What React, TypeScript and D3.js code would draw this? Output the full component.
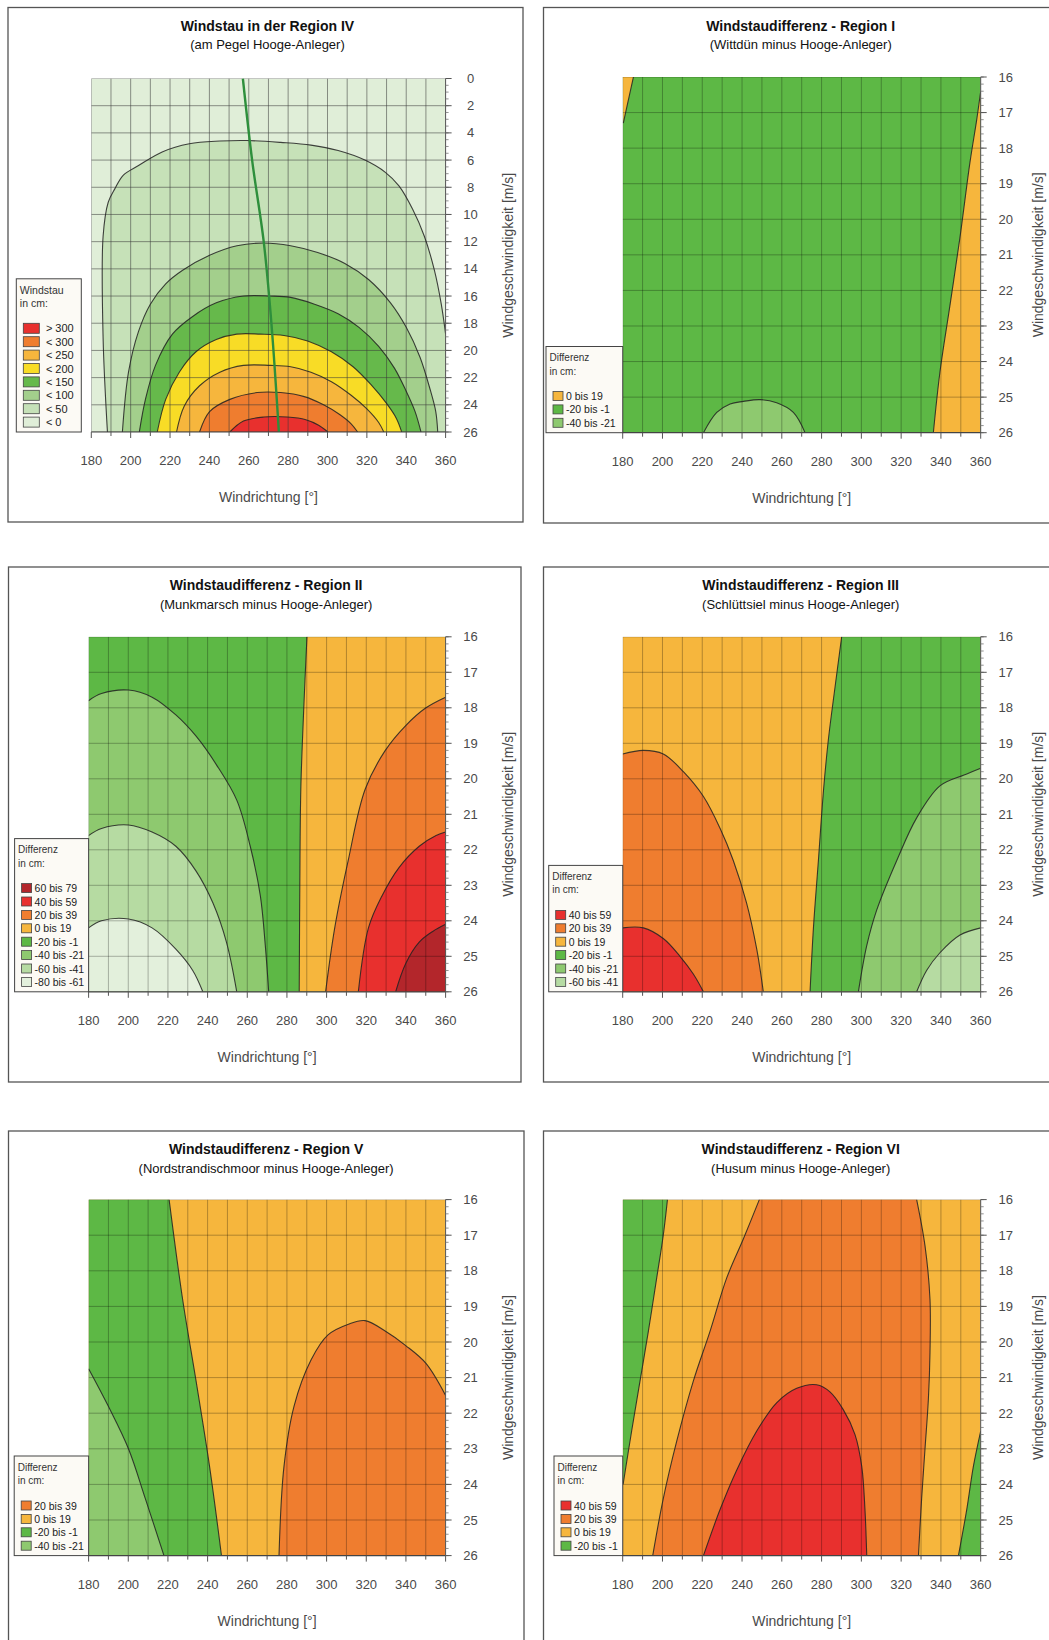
import React from "react";
import * as d3 from "d3";

type Pt = [number, number];

// ---------- data (x = Windrichtung [°], y = Windgeschwindigkeit [m/s]) ----------
const directionTicks = [180, 200, 220, 240, 260, 280, 300, 320, 340, 360];
const speedTicksIV = [0, 2, 4, 6, 8, 10, 12, 14, 16, 18, 20, 22, 24, 26];
const speedTicksDiff = [16, 17, 18, 19, 20, 21, 22, 23, 24, 25, 26];

// Region IV: Windstau contours, outer to inner
const ivC0: Pt[] = [[188.2, 26], [186, 19.1], [186, 11.6], [188.6, 9.1], [192, 8.1], [196.3, 7.1], [204, 6.4], [216, 5.4], [229.8, 4.8], [245.3, 4.6], [259, 4.56], [276.2, 4.7], [291.6, 4.9], [305.4, 5.3], [319, 6.0], [329.4, 6.9], [336.3, 7.9], [343.2, 9.6], [349.2, 11.6], [354.3, 14.1], [357.8, 16.6], [360, 18.8]];
const ivC1: Pt[] = [[195.8, 26], [198.9, 21.6], [204, 18.6], [210, 16.6], [217.8, 15.1], [226.4, 14.1], [240.1, 13], [254, 12.3], [267.6, 12.1], [281.3, 12.3], [295, 12.8], [308.8, 13.6], [321, 14.8], [332, 16.5], [340, 18.3], [347, 20.5], [352, 22.8], [355, 24.5], [356, 26]];
const ivC2: Pt[] = [[204.4, 26], [207.5, 23.6], [212.6, 21.1], [221.2, 18.8], [231.5, 17.5], [243.5, 16.5], [257.3, 16], [271, 16], [281.3, 16.1], [293.4, 16.6], [305.4, 17.3], [316, 18.3], [326, 19.7], [334, 21.3], [340, 23], [344.5, 24.5], [347.5, 26]];
const ivC3: Pt[] = [[213.5, 26], [217.8, 23.6], [224.7, 21.6], [233.2, 20.1], [243.5, 19.2], [253.9, 18.8], [265.9, 18.8], [277.9, 18.9], [289.9, 19.3], [302, 20.1], [313, 21.2], [322, 22.5], [330, 23.9], [335, 25], [337.7, 26]];
const ivC4: Pt[] = [[223.3, 26], [227.2, 24.1], [235, 22.6], [245.3, 21.6], [257.3, 21.1], [271, 21.1], [281.3, 21.2], [291.6, 21.6], [302, 22.3], [312, 23.3], [320, 24.3], [326, 25.3], [328.6, 26]];
const ivC5: Pt[] = [[235, 26], [240.1, 24.5], [250.4, 23.6], [264.2, 23.1], [276.2, 23.1], [288.2, 23.4], [298, 24], [306, 24.7], [312, 25.4], [315.3, 26]];
const ivC6: Pt[] = [[250.4, 26], [257.3, 25.2], [267.6, 24.9], [279.6, 24.9], [289, 25.1], [295.5, 25.5], [300.2, 26]];
const ivRidge: Pt[] = [[257, 0], [261.7, 6], [267.6, 12], [271.5, 18], [275.3, 26]];
const legendIV = ["> 300", "< 300", "< 250", "< 200", "< 150", "< 100", "< 50", "< 0"];

// Region I
const iTopLeft: Pt[] = [[185.4, 16], [180.3, 17.3]];
const iRight: Pt[] = [[336.2, 26], [339.5, 24.3], [344.6, 22.4], [349.6, 20.5], [354.6, 18.4], [358, 17.2], [360, 16.4]];
const iBump: Pt[] = [[220.6, 26], [227.3, 25.43], [234, 25.19], [240.7, 25.12], [249, 25.07], [257.4, 25.16], [265.8, 25.43], [271.7, 26]];
const legendI = ["0 bis 19", "-20 bis -1", "-40 bis -21"];

// Region II
const iiZero: Pt[] = [[290.1, 16], [288.5, 18], [287, 20.3], [286.5, 23], [286.2, 26]];
const ii20: Pt[] = [[299.5, 26], [304.1, 24.2], [310.9, 22.3], [319.4, 20.3], [329.6, 19.2], [339.9, 18.5], [350.1, 18.0], [360, 17.7]];
const ii40: Pt[] = [[316, 26], [321.1, 24.2], [327.9, 23.3], [336.5, 22.5], [346.7, 21.9], [355.2, 21.6], [360, 21.5]];
const ii60: Pt[] = [[334.8, 26], [339.9, 25.2], [346.7, 24.6], [353.5, 24.3], [360, 24.1]];
const iiM20: Pt[] = [[180, 17.8], [186.5, 17.6], [200.1, 17.5], [212, 17.7], [224, 18.2], [234.2, 18.8], [244.4, 19.6], [254.7, 20.6], [261.5, 21.9], [266.6, 23.3], [269.1, 24.7], [270.8, 26]];
const iiM40: Pt[] = [[180, 21.6], [186.5, 21.4], [200.1, 21.3], [212, 21.5], [224, 21.9], [234.2, 22.6], [242.7, 23.5], [249.5, 24.6], [254.7, 26]];
const iiM60: Pt[] = [[180, 24.2], [186.5, 24], [200.1, 23.95], [212, 24.2], [224, 24.8], [232.5, 25.4], [237.6, 26]];
const legendII = ["60 bis 79", "40 bis 59", "20 bis 39", "0 bis 19", "-20 bis -1", "-40 bis -21", "-60 bis -41", "-80 bis -61"];

// Region III
const iiiZero: Pt[] = [[290.1, 16], [286.8, 17.4], [283.4, 18.9], [281, 20.3], [278.4, 22.3], [275.9, 24.2], [274.2, 26]];
const iiiM20: Pt[] = [[298.5, 26], [302.7, 24.7], [307.7, 23.7], [317.8, 22.3], [327.8, 21.1], [339.5, 20.2], [351.3, 19.9], [360, 19.7]];
const iiiM40: Pt[] = [[327.8, 26], [332.8, 25.4], [339.5, 24.9], [349.6, 24.4], [360, 24.2]];
const iii20: Pt[] = [[180, 19.3], [190.4, 19.2], [200.4, 19.3], [210.5, 19.8], [220.6, 20.5], [229, 21.4], [235.6, 22.3], [242.3, 23.5], [247.4, 24.8], [250.7, 26]];
const iii40: Pt[] = [[180, 24.2], [190.4, 24.2], [200.4, 24.5], [208.8, 25], [215.5, 25.5], [220.6, 26]];
const legendIII = ["40 bis 59", "20 bis 39", "0 bis 19", "-20 bis -1", "-40 bis -21", "-60 bis -41"];

// Region V
const vZero: Pt[] = [[220.6, 16], [227.4, 18.8], [234.2, 21.1], [241, 23.5], [247, 26]];
const vM20: Pt[] = [[180, 20.75], [189.9, 21.8], [200.1, 23], [208.6, 24.4], [218, 26]];
const v20: Pt[] = [[276, 26], [278.5, 23.5], [283.6, 21.8], [292.2, 20.5], [300.7, 19.8], [311, 19.5], [319.4, 19.4], [329.7, 19.7], [339.9, 20.1], [350.1, 20.6], [360, 21.5]];
const legendV = ["20 bis 39", "0 bis 19", "-20 bis -1", "-40 bis -21"];

// Region VI
const viZeroLeft: Pt[] = [[202.5, 16], [200.4, 17], [197.1, 18.2], [192.9, 19.7], [188.7, 21.1], [184.5, 22.5], [180.2, 24]];
const viZeroRight: Pt[] = [[360, 22.5], [356.3, 23.5], [353, 24.7], [348.8, 26]];
const vi20Left: Pt[] = [[248.7, 16], [240.7, 17.1], [232.3, 18.2], [223.9, 19.7], [215.5, 21.1], [207.1, 22.8], [200.4, 24.4], [195.1, 26]];
const vi20Right: Pt[] = [[327.8, 16], [332, 17.3], [334.5, 18.8], [334.5, 20.3], [333.7, 21.6], [332, 23], [330.3, 24.4], [328.7, 26]];
const vi40: Pt[] = [[220.6, 26], [229, 24.7], [237.3, 23.6], [247.4, 22.5], [257.5, 21.7], [267.5, 21.3], [277.5, 21.2], [284.2, 21.4], [290.9, 21.9], [296.8, 22.6], [300.2, 23.5], [301.8, 24.7], [302.7, 26]];
const legendVI = ["40 bis 59", "20 bis 39", "0 bis 19", "-20 bis -1"];

// ---------- styles ----------
const colors: Record<string, string> = {
  "> 300": "#e8302e", "< 300": "#ef7d2f", "< 250": "#f6b63d", "< 200": "#f8dc26",
  "< 150": "#66b94b", "< 100": "#a3cf8c", "< 50": "#c6e1b8", "< 0": "#e0eed8",
  "60 bis 79": "#b3262b", "40 bis 59": "#e8302e", "20 bis 39": "#ef7d2f", "0 bis 19": "#f6b63d",
  "-20 bis -1": "#5db845", "-40 bis -21": "#8ec96f", "-60 bis -41": "#b6dba2", "-80 bis -61": "#e3f0dc",
};
const FONT = "'Liberation Sans', Arial, sans-serif";

type Part = { pts: Pt[]; line?: boolean };
type Area = { cls: string; parts: Part[] };
type Layout = { frame: number[]; plot: number[]; legendW: number; legendGap: number; yTitleDx: number; big: boolean };
type Spec = {
  title: string; subtitle: string; legendTitle: string; legend: string[]; base: string;
  areas: Area[]; ridge?: Pt[]; domain: [number, number]; ticks: number[]; gridStep: number; layout: Layout;
};

const L = (pts: Pt[]): Part => ({ pts, line: true });
const C = (pts: Pt[]): Part => ({ pts });
const rev = (pts: Pt[]) => [...pts].reverse() as Pt[];

const specs: Spec[] = [
  {
    title: "Windstau in der Region IV", subtitle: "(am Pegel Hooge-Anleger)", legendTitle: "Windstau",
    legend: legendIV, base: "< 0", domain: [0, 26], ticks: speedTicksIV, gridStep: 2, ridge: ivRidge,
    areas: [
      { cls: "< 50", parts: [L(ivC0), C([[360, 26]])] },
      { cls: "< 100", parts: [L(ivC1)] },
      { cls: "< 150", parts: [L(ivC2)] },
      { cls: "< 200", parts: [L(ivC3)] },
      { cls: "< 250", parts: [L(ivC4)] },
      { cls: "< 300", parts: [L(ivC5)] },
      { cls: "> 300", parts: [L(ivC6)] },
    ],
    layout: { frame: [8, 7.5, 523, 522], plot: [91.3, 78.5, 445.6, 432], legendW: 65, legendGap: 10, yTitleDx: 62, big: true },
  },
  {
    title: "Windstaudifferenz - Region I", subtitle: "(Wittdün minus Hooge-Anleger)", legendTitle: "Differenz",
    legend: legendI, base: "-20 bis -1", domain: [16, 26], ticks: speedTicksDiff, gridStep: 1,
    areas: [
      { cls: "0 bis 19", parts: [L(iTopLeft), C([[180, 16]])] },
      { cls: "0 bis 19", parts: [L(iRight), C([[360, 26]])] },
      { cls: "-40 bis -21", parts: [L(iBump)] },
    ],
    layout: { frame: [543.5, 7.5, 1051, 523], plot: [622.7, 77, 980.7, 432.7], legendW: 76.7, legendGap: 0, yTitleDx: 57, big: false },
  },
  {
    title: "Windstaudifferenz - Region II", subtitle: "(Munkmarsch minus Hooge-Anleger)", legendTitle: "Differenz",
    legend: legendII, base: "-20 bis -1", domain: [16, 26], ticks: speedTicksDiff, gridStep: 1,
    areas: [
      { cls: "0 bis 19", parts: [L(iiZero), C([[360, 26], [360, 16]])] },
      { cls: "20 bis 39", parts: [L(ii20), C([[360, 26]])] },
      { cls: "40 bis 59", parts: [L(ii40), C([[360, 26]])] },
      { cls: "60 bis 79", parts: [L(ii60), C([[360, 26]])] },
      { cls: "-40 bis -21", parts: [L(iiM20), C([[180, 26]])] },
      { cls: "-60 bis -41", parts: [L(iiM40), C([[180, 26]])] },
      { cls: "-80 bis -61", parts: [L(iiM60), C([[180, 26]])] },
    ],
    layout: { frame: [8.5, 567, 521, 1082], plot: [88.6, 636.8, 445.6, 991.8], legendW: 74, legendGap: 0, yTitleDx: 62, big: false },
  },
  {
    title: "Windstaudifferenz - Region III", subtitle: "(Schlüttsiel minus Hooge-Anleger)", legendTitle: "Differenz",
    legend: legendIII, base: "0 bis 19", domain: [16, 26], ticks: speedTicksDiff, gridStep: 1,
    areas: [
      { cls: "-20 bis -1", parts: [L(iiiZero), C([[360, 26], [360, 16]])] },
      { cls: "-40 bis -21", parts: [L(iiiM20), C([[360, 26]])] },
      { cls: "-60 bis -41", parts: [L(iiiM40), C([[360, 26]])] },
      { cls: "20 bis 39", parts: [L(iii20), C([[180, 26]])] },
      { cls: "40 bis 59", parts: [L(iii40), C([[180, 26]])] },
    ],
    layout: { frame: [543.5, 567, 1051, 1082], plot: [622.7, 636.8, 980.7, 991.8], legendW: 74, legendGap: 0, yTitleDx: 57, big: false },
  },
  {
    title: "Windstaudifferenz - Region V", subtitle: "(Nordstrandischmoor minus Hooge-Anleger)", legendTitle: "Differenz",
    legend: legendV, base: "0 bis 19", domain: [16, 26], ticks: speedTicksDiff, gridStep: 1,
    areas: [
      { cls: "-20 bis -1", parts: [L(vZero), C([[180, 26], [180, 16]])] },
      { cls: "-40 bis -21", parts: [L(vM20), C([[180, 26]])] },
      { cls: "20 bis 39", parts: [L(v20), C([[360, 26]])] },
    ],
    layout: { frame: [8.5, 1131, 524, 1660], plot: [88.6, 1199.6, 445.6, 1555.6], legendW: 74.4, legendGap: 0, yTitleDx: 62, big: false },
  },
  {
    title: "Windstaudifferenz - Region VI", subtitle: "(Husum minus Hooge-Anleger)", legendTitle: "Differenz",
    legend: legendVI, base: "0 bis 19", domain: [16, 26], ticks: speedTicksDiff, gridStep: 1,
    areas: [
      { cls: "-20 bis -1", parts: [L(viZeroLeft), C([[180, 16]])] },
      { cls: "-20 bis -1", parts: [L(viZeroRight), C([[360, 26]])] },
      { cls: "20 bis 39", parts: [L(vi20Left), L(rev(vi20Right))] },
      { cls: "40 bis 59", parts: [L(vi40)] },
    ],
    layout: { frame: [543.5, 1131, 1051, 1660], plot: [622.7, 1199.6, 980.7, 1555.6], legendW: 68.7, legendGap: 0, yTitleDx: 57, big: false },
  },
];

const Panel = ({ spec, idx }: { spec: Spec; idx: number }) => {
  const { frame, plot, legendW, legendGap, yTitleDx, big } = spec.layout;
  const [px0, py0, px1, py1] = plot;
  const x = d3.scaleLinear().domain([180, 360]).range([px0, px1]);
  const y = d3.scaleLinear().domain(spec.domain).range([py0, py1]);
  const line = d3.line<Pt>().x(d => x(d[0])).y(d => y(d[1])).curve(d3.curveCatmullRom.alpha(0.5));

  const areaD = (parts: Part[]) => {
    let d = "";
    parts.forEach(p => {
      if (p.line) {
        const s = line(p.pts) as string;
        d += d === "" ? s : "L" + s.slice(1);
      } else {
        p.pts.forEach(q => { d += (d === "" ? "M" : "L") + x(q[0]) + "," + y(q[1]); });
      }
    });
    return d + "Z";
  };

  const clipId = `clip${idx}`;
  const vGrid = d3.range(180, 361, 10);
  const hGrid = d3.range(spec.domain[0], spec.domain[1] + 0.001, spec.gridStep);
  const minorStep = big ? 0.5 : 0.2;
  const minor = d3.range(spec.domain[0], spec.domain[1] + 0.001, minorStep);
  const cx = (px0 + px1) / 2;
  const cy = (py0 + py1) / 2;

  // legend geometry
  const step = 13.4;
  const n = spec.legend.length;
  const boxTop = py1 - (46 + n * step);
  const boxRight = px0 - legendGap;
  const boxLeft = boxRight - legendW;
  const sw = big ? { x: 7, w: 16, h: 10, t: 29.6, f: 11 } : { x: 7, w: 10, h: 9, t: 20, f: 10.5 };

  return (
    <g fontFamily={FONT}>
      <rect x={frame[0]} y={frame[1]} width={frame[2] - frame[0]} height={frame[3] - frame[1]}
        fill="#fff" stroke="#555" strokeWidth={1.3} />
      <text x={cx - 1} y={frame[1] + 18} textAnchor="middle" dominantBaseline="central"
        fontSize={14} fontWeight="bold" fill="#111">{spec.title}</text>
      <text x={cx - 1} y={frame[1] + 37} textAnchor="middle" dominantBaseline="central"
        fontSize={13} fill="#111">{spec.subtitle}</text>

      <clipPath id={clipId}><rect x={px0} y={py0} width={px1 - px0} height={py1 - py0} /></clipPath>
      <g clipPath={`url(#${clipId})`}>
        <rect x={px0} y={py0} width={px1 - px0} height={py1 - py0} fill={colors[spec.base]} />
        {spec.areas.map((a, i) => <path key={i} d={areaD(a.parts)} fill={colors[a.cls]} stroke="none" />)}
        {vGrid.map(v => <line key={"v" + v} x1={x(v)} x2={x(v)} y1={py0} y2={py1}
          stroke={big ? "#3a3a3a" : "#000"} strokeOpacity={big ? 0.55 : 0.28} strokeWidth={1} />)}
        {hGrid.map(v => <line key={"h" + v} x1={px0} x2={px1} y1={y(v)} y2={y(v)}
          stroke={big ? "#3a3a3a" : "#000"} strokeOpacity={big ? 0.55 : 0.28} strokeWidth={1} />)}
        {spec.areas.map((a, i) => a.parts.filter(p => p.line).map((p, j) =>
          <path key={`c${i}-${j}`} d={line(p.pts) as string} fill="none" stroke="#222" strokeOpacity={0.85} strokeWidth={1.1} />))}
        {spec.ridge && <path d={line(spec.ridge) as string} fill="none" stroke="#2e8f3c" strokeWidth={2.4} />}
      </g>

      {/* right axis */}
      <line x1={px1} x2={px1} y1={py0} y2={py1} stroke="#555" strokeWidth={1} />
      {minor.map(v => <line key={"m" + v} x1={px1} x2={px1 + 3} y1={y(v)} y2={y(v)} stroke="#777" strokeWidth={0.8} />)}
      {spec.ticks.map(t => (
        <g key={"yt" + t}>
          <line x1={px1} x2={px1 + 6} y1={y(t)} y2={y(t)} stroke="#555" strokeWidth={1} />
          <text x={px1 + 25} y={y(t)} textAnchor="middle" dominantBaseline="central" fontSize={13} fill="#4a4a4a">{t}</text>
        </g>
      ))}
      <text transform={`translate(${px1 + yTitleDx},${cy}) rotate(-90)`} textAnchor="middle" dominantBaseline="central"
        fontSize={14} fill="#4a4a4a">Windgeschwindigkeit [m/s]</text>

      {/* bottom axis */}
      <line x1={px0} x2={px1} y1={py1} y2={py1} stroke="#444" strokeWidth={1.2} />
      {vGrid.map(v => (
        <line key={"xt" + v} x1={x(v)} x2={x(v)} y1={py1} y2={py1 + (directionTicks.includes(v) ? 6 : 4)} stroke="#555" strokeWidth={1} />
      ))}
      {directionTicks.map(t => (
        <text key={"xl" + t} x={x(t)} y={py1 + 28.5} textAnchor="middle" dominantBaseline="central" fontSize={13} fill="#4a4a4a">{t}</text>
      ))}
      <text x={cx} y={py1 + 65} textAnchor="middle" dominantBaseline="central" fontSize={14} fill="#4a4a4a">Windrichtung [°]</text>

      {/* legend */}
      <rect x={boxLeft} y={boxTop} width={legendW} height={py1 - boxTop} fill="#fcfaf5" stroke="#444" strokeWidth={1} />
      <text x={boxLeft + 3.5} y={boxTop + 11} dominantBaseline="central" fontSize={sw.f - 0.5} fill="#333">{spec.legendTitle}</text>
      <text x={boxLeft + 3.5} y={boxTop + 24.5} dominantBaseline="central" fontSize={sw.f - 0.5} fill="#333">in cm:</text>
      {spec.legend.map((lab, i) => {
        const ly = boxTop + 49.5 + i * step;
        return (
          <g key={lab}>
            <rect x={boxLeft + sw.x} y={ly - sw.h / 2} width={sw.w} height={sw.h} fill={colors[lab]} stroke="#444" strokeWidth={0.8} />
            <text x={boxLeft + sw.t} y={ly} dominantBaseline="central" fontSize={sw.f} fill="#222">{lab}</text>
          </g>
        );
      })}
    </g>
  );
};

export default function App() {
  return (
    <svg width={1049} height={1640} style={{ position: "absolute", left: 0, top: 0, background: "#fff" }}>
      <rect width={1049} height={1640} fill="#fff" />
      {specs.map((s, i) => <Panel key={i} spec={s} idx={i} />)}
    </svg>
  );
}
